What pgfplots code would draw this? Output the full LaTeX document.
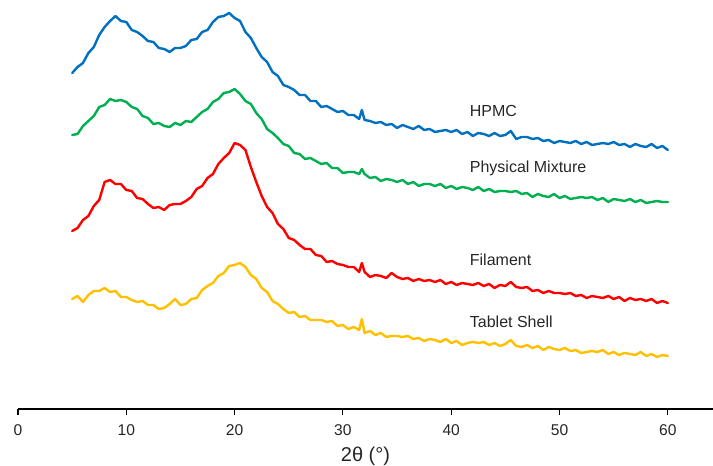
\documentclass[border=0pt]{standalone}
\usepackage{fontspec}
\setmainfont{Liberation Sans}
\usepackage{pgfplots}
\usepackage{pgfplotstable}
\pgfplotsset{compat=1.18}

\definecolor{hpmc}{RGB}{0,112,192}
\definecolor{pmix}{RGB}{0,176,80}
\definecolor{fila}{RGB}{255,0,0}
\definecolor{tabs}{RGB}{255,192,0}

% intensities are offset per pattern (a.u.)
\pgfplotstableread{
x b g r y
5.0 336 274 178 110
5.5 342 275 181 113
6.0 346 283 189 107
6.5 356 288 193 114
7.0 362 293 203 118
7.5 374 302 209 118
8.0 382 304 227 121
8.5 388 310 229 117
9.0 393 308 225 118
9.5 388 309 225 112
10.0 387 307 219 112
10.5 379 302 218 109
11.0 377 300 211 107
11.5 373 293 210 108
12.0 368 291 205 104
12.5 367 285 201 104
13.0 361 286 202 100
13.5 360 283 199 101
14.0 357 282 204 105
14.5 361 286 205 110
15.0 361 284 205 104
15.5 363 288 208 105
16.0 369 287 212 110
16.5 370 292 220 111
17.0 377 297 223 119
17.5 379 300 231 123
18.0 387 307 235 126
18.5 392 310 245 133
19.0 393 316 251 136
19.5 396 317 256 143
20.0 391 320 266 144
20.5 388 315 264 146
21.0 377 308 259 142
21.5 371 305 242 134
22.0 361 296 227 130
22.5 352 290 213 121
23.0 347 280 202 117
23.5 337 276 196 108
24.0 333 271 185 105
24.5 324 265 180 100
25.0 322 263 171 96
25.5 319 256 169 97
26.0 314 255 164 92
26.5 314 250 160 93
27.0 308 251 160 89
27.5 308 248 154 89
28.0 302 245 153 89
28.5 303 246 147 87
29.0 300 241 148 88
29.5 297 241 145 83
30.0 298 236 144 84
30.5 294 237 142 80
31.0 294 237 142 82
31.5 290 235 137 79
31.75 299 240 146 90
32.0 289 235 137 76
32.5 288 231 132 78
33.0 286 232 134 74
33.5 287 228 133 76
34.0 284 230 131 72
34.5 285 229 136 73
35.0 281 227 132 73
35.5 284 229 130 72
36.0 282 225 131 73
36.5 280 227 128 70
37.0 283 223 130 71
37.5 279 225 128 68
38.0 280 225 129 70
38.5 277 223 127 69
39.0 278 225 129 67
39.5 279 221 125 70
40.0 277 223 127 66
40.5 279 220 124 68
41.0 275 222 126 64
41.5 277 221 125 66
42.0 273 219 124 67
42.5 276 222 126 66
43.0 275 218 123 67
43.5 273 220 125 64
44.0 276 217 121 66
44.5 273 218 124 63
45.0 274 218 123 65
45.5 278 217 127 69
46.0 270 218 122 63
46.5 272 215 121 62
47.0 272 216 122 64
47.5 270 212 118 61
48.0 271 215 119 63
48.5 268 213 116 59
49.0 269 212 118 62
49.5 266 215 116 60
50.0 268 211 116 59
50.5 267 213 115 61
51.0 266 210 116 58
51.5 268 211 113 59
52.0 265 212 114 56
52.5 267 211 111 57
53.0 264 212 113 58
53.5 265 209 112 57
54.0 266 211 111 59
54.5 265 207 113 55
55.0 267 210 110 57
55.5 264 209 112 54
56.0 265 208 108 56
56.5 262 210 111 55
57.0 265 207 109 54
57.5 263 209 110 57
58.0 262 206 108 53
58.5 265 207 110 55
59.0 261 208 106 52
59.5 263 207 108 54
60.0 259 207 106 53
}\xrd

\begin{document}
\begin{tikzpicture}
\begin{axis}[
  name=ax,
  scale only axis,
  width=521.25pt, height=306.75pt,
  xmin=0, xmax=64.17, ymin=0, ymax=409,
  axis x line=bottom, axis y line=none,
  axis line style={black, line width=0.9pt, -},
  xtick={0,10,...,60}, ytick=\empty,
  tick align=outside, major tick length=4.5pt,
  tick style={black, line width=0.8pt},
  /pgf/number format/assume math mode=true,
  x tick label style={font=\fontsize{11.7}{13}\selectfont, text=black!85, yshift=-3.5pt},
  xlabel={2θ (°)},
  every axis x label/.style={at={(axis description cs:0.5,0)}, anchor=center, yshift=-35.5pt, font=\fontsize{15}{17}\selectfont, text=black!85},
  every axis plot/.append style={line width=1.8pt, line join=round, line cap=round},
]
\addplot[hpmc] table[x=x, y=b] {\xrd};
\addplot[pmix] table[x=x, y=g] {\xrd};
\addplot[fila] table[x=x, y=r] {\xrd};
\addplot[tabs] table[x=x, y=y] {\xrd};

\begin{scope}[every node/.style={anchor=west, inner sep=0pt, font=\fontsize{12}{14}\selectfont, text=black!85}]
\node at (axis cs:41.7,298) {HPMC};
\node at (axis cs:41.7,241) {Physical Mixture};
\node at (axis cs:41.7,149) {Filament};
\node at (axis cs:41.7,87) {Tablet Shell};
\end{scope}
\end{axis}
\pgfresetboundingbox
\useasboundingbox ([shift={(-13.5pt,-42.75pt)}]ax.south west) rectangle (ax.north east);
\end{tikzpicture}
\end{document}
